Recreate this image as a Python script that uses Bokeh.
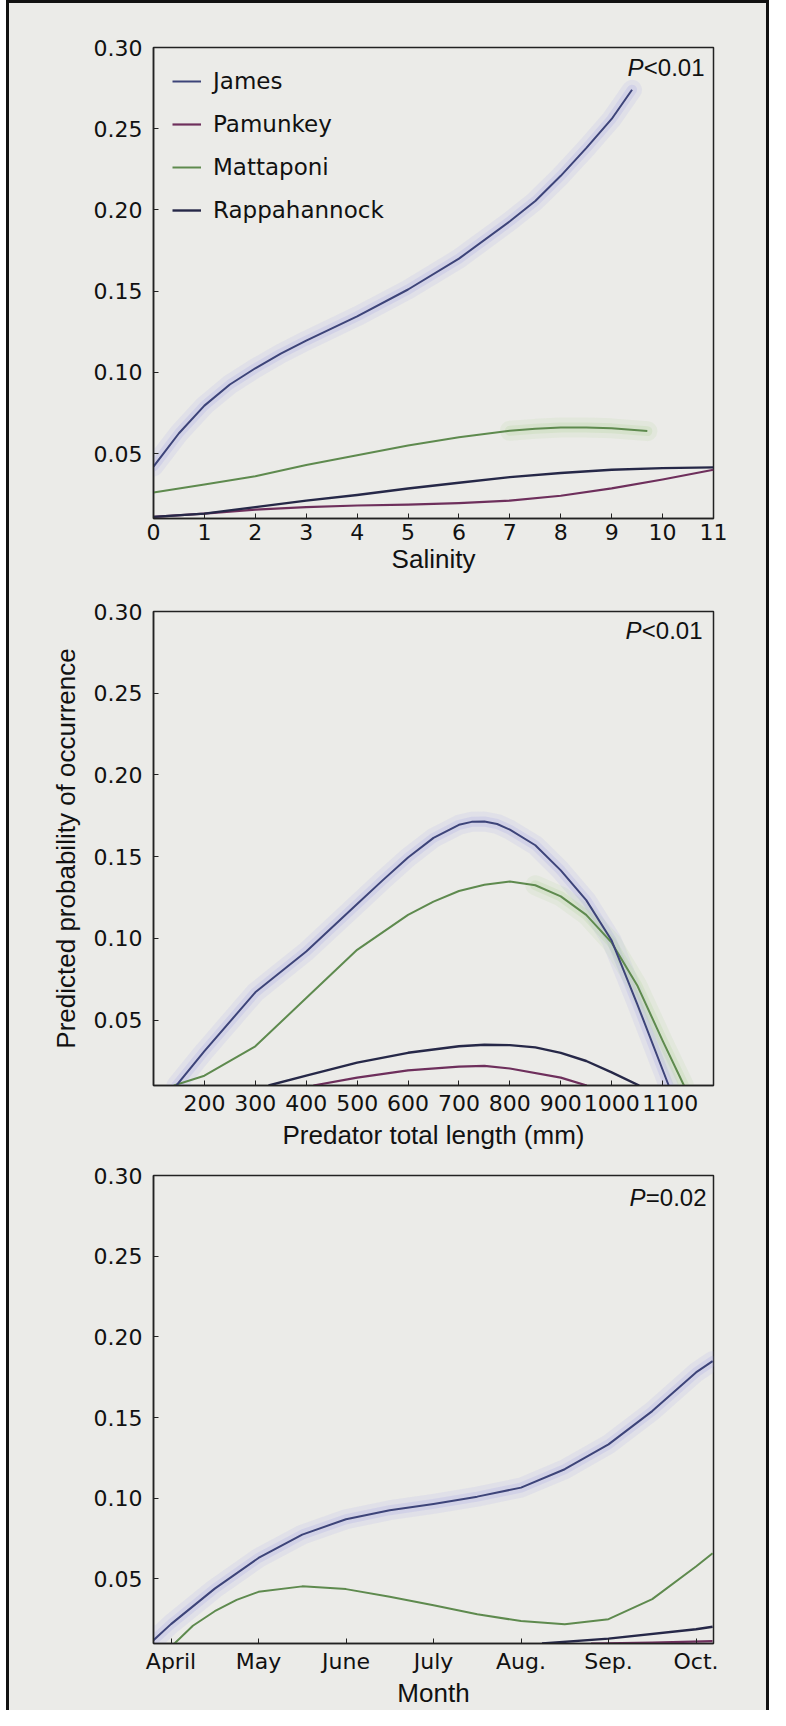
from bokeh.plotting import figure
from bokeh.layouts import column
from bokeh.models import FixedTicker, Range1d, Legend, LegendItem, ColumnDataSource, NumeralTickFormatter
from bokeh.core.properties import value
from bokeh.embed import file_html
from bokeh.resources import INLINE

# ---------------- data ----------------
series_names = ["James", "Pamunkey", "Mattaponi", "Rappahannock"]
y_ticks = [0.05, 0.10, 0.15, 0.20, 0.25, 0.30]

# Panel 1: salinity
sal_ticks = [0, 1, 2, 3, 4, 5, 6, 7, 8, 9, 10, 11]
sal_james_x = [0, 0.5, 1, 1.5, 2, 2.5, 3, 4, 5, 6, 7, 7.5, 8, 8.5, 9, 9.4]
sal_james_y = [0.042, 0.0625, 0.0795, 0.0925, 0.1025, 0.1115, 0.1195, 0.1345, 0.151, 0.170, 0.193, 0.2055, 0.221, 0.238, 0.256, 0.274]
sal_pam_x = [0, 1, 2, 3, 4, 5, 6, 7, 8, 9, 10, 11]
sal_pam_y = [0.011, 0.013, 0.0155, 0.017, 0.018, 0.0185, 0.0195, 0.021, 0.024, 0.0285, 0.034, 0.040]
sal_matt_x = [0, 1, 2, 3, 4, 5, 6, 7, 7.5, 8, 8.5, 9, 9.7]
sal_matt_y = [0.026, 0.031, 0.036, 0.043, 0.049, 0.055, 0.060, 0.064, 0.0652, 0.066, 0.0661, 0.0655, 0.0638]
sal_rapp_x = [0, 1, 2, 3, 4, 5, 6, 7, 8, 9, 10, 11]
sal_rapp_y = [0.011, 0.013, 0.017, 0.021, 0.0245, 0.0285, 0.032, 0.0355, 0.038, 0.040, 0.041, 0.0415]

# Panel 2: predator total length (mm)
len_ticks = [200, 300, 400, 500, 600, 700, 800, 900, 1000, 1100]
len_james_x = [145, 200, 300, 400, 500, 550, 600, 650, 700, 725, 750, 775, 800, 850, 900, 950, 1000, 1050, 1112]
len_james_y = [0.01, 0.031, 0.067, 0.092, 0.121, 0.1355, 0.1495, 0.1615, 0.1695, 0.1713, 0.1715, 0.170, 0.1665, 0.157, 0.1416, 0.1234, 0.0987, 0.060, 0.01]
len_pam_x = [414, 500, 600, 700, 750, 800, 900, 951]
len_pam_y = [0.01, 0.0148, 0.0193, 0.0216, 0.022, 0.0204, 0.0148, 0.01]
len_matt_x = [140, 200, 300, 400, 500, 600, 650, 700, 750, 800, 850, 900, 950, 1000, 1050, 1100, 1142]
len_matt_y = [0.01, 0.016, 0.034, 0.0635, 0.093, 0.1144, 0.1225, 0.129, 0.1328, 0.1348, 0.1325, 0.1257, 0.1144, 0.0974, 0.0714, 0.0375, 0.01]
len_rapp_x = [326, 400, 500, 600, 700, 750, 800, 850, 900, 950, 1000, 1054]
len_rapp_y = [0.01, 0.016, 0.024, 0.030, 0.034, 0.0349, 0.0347, 0.0333, 0.030, 0.025, 0.018, 0.01]

# Panel 3: month
month_ticks = [4, 5, 6, 7, 8, 9, 10]
month_labels = ["April", "May", "June", "July", "Aug.", "Sep.", "Oct."]
mon_james_x = [3.8, 4.0, 4.5, 5.0, 5.5, 6.0, 6.5, 7.0, 7.5, 8.0, 8.5, 9.0, 9.5, 10.0, 10.19]
mon_james_y = [0.012, 0.022, 0.044, 0.063, 0.0775, 0.087, 0.0926, 0.0965, 0.101, 0.1066, 0.118, 0.1334, 0.154, 0.178, 0.185]
mon_pam_x = [8.8, 9.5, 10.19]
mon_pam_y = [0.01, 0.0105, 0.0115]
mon_matt_x = [4.04, 4.25, 4.5, 4.75, 5.0, 5.5, 6.0, 6.5, 7.0, 7.5, 8.0, 8.5, 9.0, 9.5, 10.0, 10.19]
mon_matt_y = [0.01, 0.021, 0.030, 0.037, 0.042, 0.0454, 0.0437, 0.039, 0.0337, 0.0281, 0.0239, 0.022, 0.0251, 0.0375, 0.0577, 0.0659]
mon_rapp_x = [8.24, 9.0, 10.0, 10.19]
mon_rapp_y = [0.01, 0.013, 0.0188, 0.0204]

p_texts = [("P", "<0.01"), ("P", "<0.01"), ("P", "=0.02")]

# ---------------- style ----------------
BG = "#ebebe8"
COL = {"James": "#3d4479", "Pamunkey": "#6e2f5c", "Mattaponi": "#5e8a4e", "Rappahannock": "#262848"}
HALO = {"James": "#9a9be6", "Mattaponi": "#a8d08a"}
TICK_FONT = "DejaVu Sans"
LABEL_FONT = "Liberation Sans"


def make_fig(height, mbt, mbb, mbl, mbr, xr, xticks):
    p = figure(width=757, height=height, x_range=Range1d(*xr), y_range=Range1d(0.01, 0.30),
               output_backend="svg", toolbar_location=None,
               min_border_left=mbl, min_border_right=mbr, min_border_top=mbt, min_border_bottom=mbb,
               background_fill_color=BG, border_fill_color=BG)
    p.outline_line_color = "#222222"
    p.outline_line_width = 1.5
    p.grid.visible = False
    for ax in (p.xaxis[0], p.yaxis[0]):
        ax.axis_line_color = "#222222"
        ax.axis_line_width = 1.5
        ax.major_tick_in = 5
        ax.major_tick_out = 0
        ax.major_tick_line_color = "#222222"
        ax.minor_tick_line_color = None
        ax.major_label_text_font = TICK_FONT
        ax.major_label_text_font_size = "22px"
        ax.major_label_text_color = "#111111"
        ax.axis_label_text_font = LABEL_FONT
        ax.axis_label_text_font_size = "26px"
        ax.axis_label_text_font_style = "normal"
        ax.axis_label_text_color = "#111111"
    p.xaxis.ticker = FixedTicker(ticks=xticks)
    p.xaxis.major_label_standoff = 5
    p.xaxis.axis_label_standoff = 1
    p.yaxis.ticker = FixedTicker(ticks=y_ticks)
    p.yaxis.formatter = NumeralTickFormatter(format="0.00")
    p.yaxis.major_label_standoff = 11
    p.yaxis.axis_label_standoff = 10
    return p


def add_lines(p, data, halos):
    for name, xs, ys in halos:
        p.line(xs, ys, line_color=HALO[name], line_width=20, line_alpha=0.13, line_cap="round", line_join="round")
        p.line(xs, ys, line_color=HALO[name], line_width=10, line_alpha=0.2, line_cap="round", line_join="round")
    rends = {}
    widths = {"James": 2.0, "Pamunkey": 2.2, "Mattaponi": 2.0, "Rappahannock": 2.4}
    for name in ["Pamunkey", "Rappahannock", "Mattaponi", "James"]:
        xs, ys = data[name]
        rends[name] = p.line(xs, ys, line_color=COL[name], line_width=widths[name], line_join="round")
    return rends


def add_p(p, xr_end, italic, rest, dx, dy):
    src = ColumnDataSource(dict(x=[xr_end], y=[0.30], t1=[italic], t2=[rest]))
    p.text(x="x", y="y", text="t2", source=src, text_align="right", text_baseline="middle",
           x_offset=dx, y_offset=dy, text_font=value(LABEL_FONT), text_font_size="24px",
           text_color="#111111")
    p.text(x="x", y="y", text="t1", source=src, text_align="right", text_baseline="middle",
           x_offset=dx - 61, y_offset=dy, text_font=value(LABEL_FONT), text_font_size="24px",
           text_font_style="italic", text_color="#111111")


# ---- Panel 1
p1 = make_fig(585, 44, 70, 144, 53, (0, 11), sal_ticks)
p1.xaxis.axis_label = "Salinity"
r1 = add_lines(p1, {"James": (sal_james_x, sal_james_y), "Pamunkey": (sal_pam_x, sal_pam_y),
                    "Mattaponi": (sal_matt_x, sal_matt_y), "Rappahannock": (sal_rapp_x, sal_rapp_y)},
               [("James", sal_james_x, sal_james_y), ("Mattaponi", sal_matt_x[7:], sal_matt_y[7:])])
add_p(p1, 11, p_texts[0][0], p_texts[0][1], -9, 20)
legend = Legend(items=[LegendItem(label=n, renderers=[r1[n]]) for n in series_names],
                location="top_left", margin=19, padding=0, spacing=13,
                glyph_width=29, glyph_height=30, label_height=30, label_standoff=12,
                label_text_font=TICK_FONT, label_text_font_size="23px", label_text_color="#111111",
                background_fill_alpha=0, border_line_alpha=0)
p1.add_layout(legend)

# ---- Panel 2
p2 = make_fig(566, 23, 69, 143, 50, (100, 1200), len_ticks)
p2.xaxis.axis_label = "Predator total length (mm)"
p2.xaxis.major_label_overrides = {1100: "\u2002\u20091100"}
p2.yaxis.axis_label = "Predicted probability of occurrence"
add_lines(p2, {"James": (len_james_x, len_james_y), "Pamunkey": (len_pam_x, len_pam_y),
               "Mattaponi": (len_matt_x, len_matt_y), "Rappahannock": (len_rapp_x, len_rapp_y)},
          [("James", len_james_x, len_james_y), ("Mattaponi", len_matt_x[10:], len_matt_y[10:])])
add_p(p2, 1200, p_texts[1][0], p_texts[1][1], -11, 19)

# ---- Panel 3
p3 = make_fig(556, 21, 62, 144, 50, (3.8, 10.2), month_ticks)
p3.xaxis.axis_label = "Month"
p3.xaxis.major_label_overrides = {m: lab for m, lab in zip(month_ticks, month_labels)}
add_lines(p3, {"James": (mon_james_x, mon_james_y), "Pamunkey": (mon_pam_x, mon_pam_y),
               "Mattaponi": (mon_matt_x, mon_matt_y), "Rappahannock": (mon_rapp_x, mon_rapp_y)},
          [("James", mon_james_x, mon_james_y)])
add_p(p3, 10.2, p_texts[2][0], p_texts[2][1], -7, 22)

layout = column(p1, p2, p3, spacing=0, margin=(0, 0, 0, 6),
                styles={"border-left": "3px solid #111111", "border-right": "3px solid #111111",
                        "border-top": "3px solid #111111", "background-color": BG})

open("out.html", "w").write(file_html(layout, INLINE))
